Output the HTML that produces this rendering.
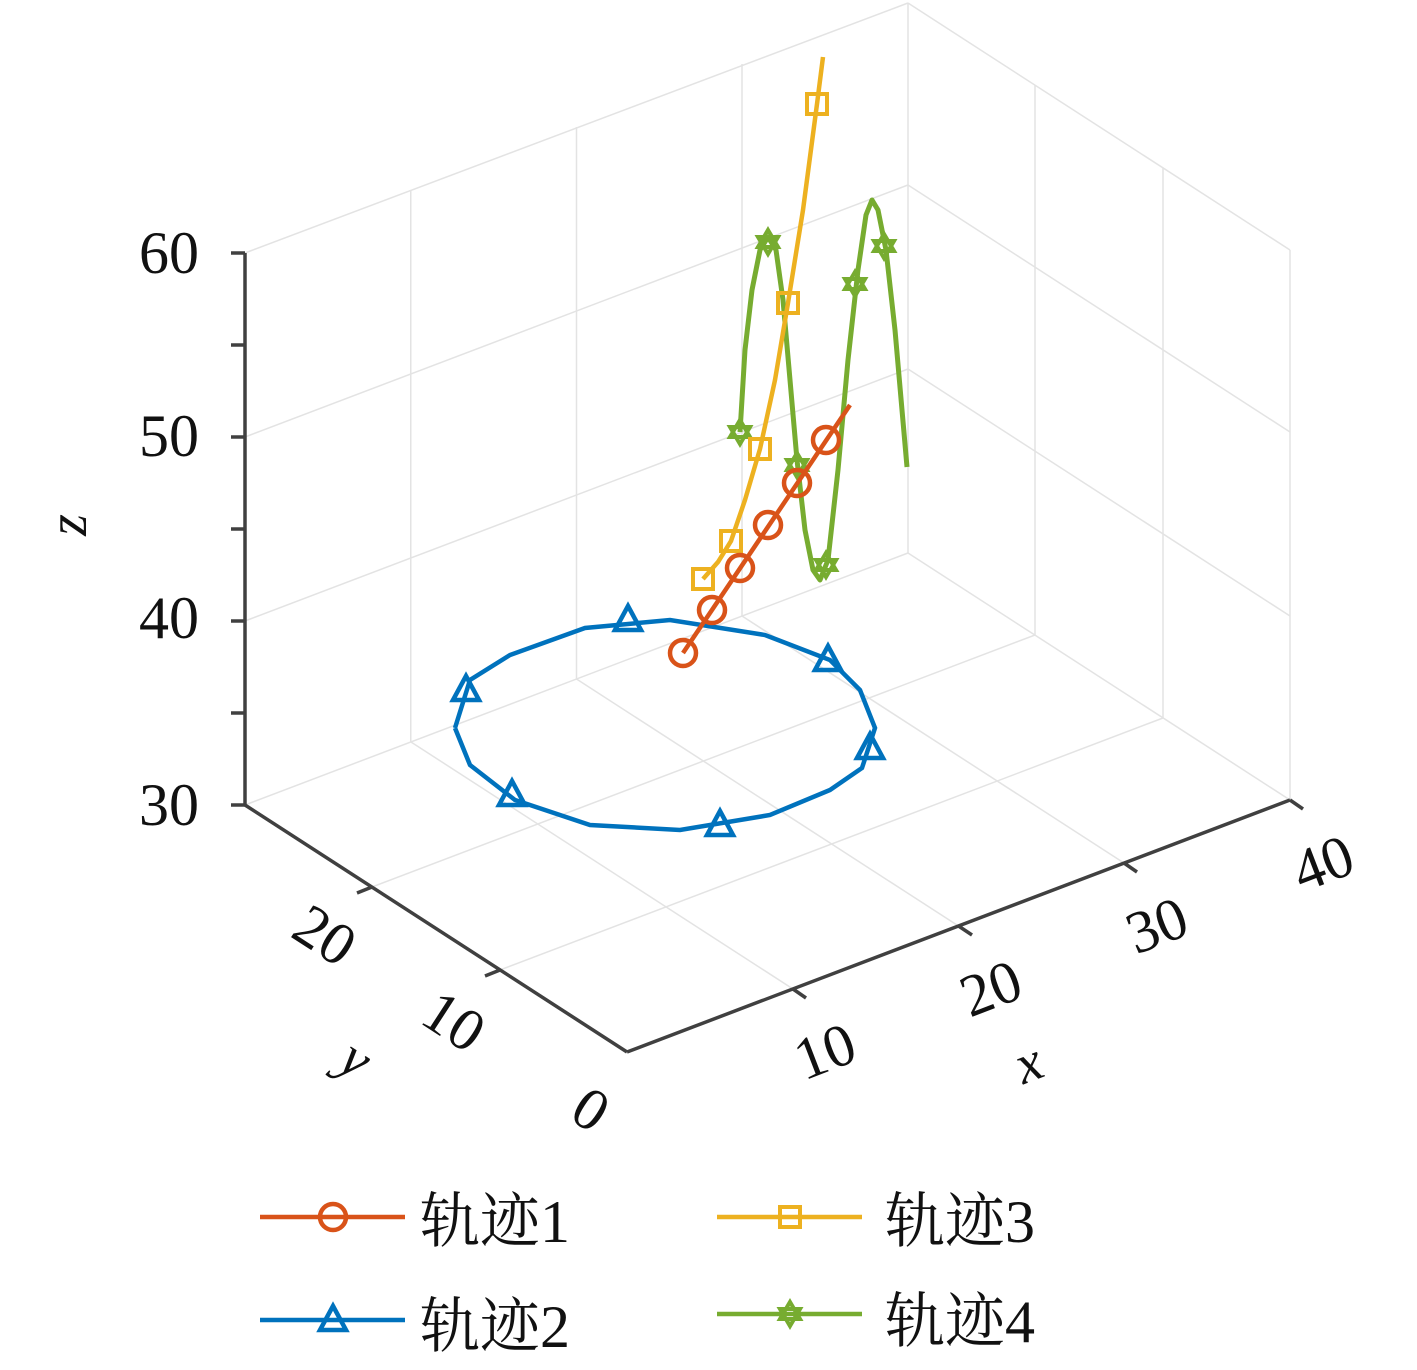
<!DOCTYPE html>
<html><head><meta charset="utf-8"><style>
html,body{margin:0;padding:0;background:#fff;}
svg{display:block;}
text{font-family:"Liberation Serif","Noto Serif CJK SC",serif;fill:#111;}
</style></head><body>
<svg width="1417" height="1370" viewBox="0 0 1417 1370" xmlns="http://www.w3.org/2000/svg">
<g stroke="#e3e3e3" stroke-width="1.5" fill="none">
<line x1="410.75" y1="742" x2="410.75" y2="190"/>
<line x1="576.5" y1="679" x2="576.5" y2="127"/>
<line x1="742" y1="616" x2="742" y2="64"/>
<line x1="908" y1="553" x2="908" y2="3"/>
<line x1="245" y1="621" x2="908" y2="369"/>
<line x1="245" y1="437" x2="908" y2="185"/>
<line x1="245" y1="253" x2="908" y2="3"/>
<line x1="1290" y1="800" x2="1290" y2="250"/>
<line x1="1163" y1="718" x2="1163" y2="168"/>
<line x1="1035" y1="635" x2="1035" y2="85"/>
<line x1="908" y1="369" x2="1290" y2="616"/>
<line x1="908" y1="185" x2="1290" y2="432"/>
<line x1="908" y1="3" x2="1290" y2="250"/>
<line x1="793" y1="989" x2="411" y2="742"/>
<line x1="958.5" y1="926" x2="576.5" y2="679"/>
<line x1="1124" y1="863" x2="742" y2="616"/>
<line x1="1290" y1="800" x2="908" y2="553"/>
<line x1="500" y1="970" x2="1163" y2="718"/>
<line x1="372" y1="887" x2="1035" y2="635"/>
<line x1="245" y1="805" x2="908" y2="553"/>
</g>
<g stroke="#404040" stroke-width="3.5" fill="none">
<line x1="245" y1="253" x2="245" y2="805"/>
<line x1="245" y1="805" x2="627" y2="1052"/>
<line x1="627" y1="1052" x2="1290" y2="800"/>
<line x1="245" y1="253" x2="231" y2="253"/>
<line x1="245" y1="345" x2="231" y2="345"/>
<line x1="245" y1="437" x2="231" y2="437"/>
<line x1="245" y1="529" x2="231" y2="529"/>
<line x1="245" y1="621" x2="231" y2="621"/>
<line x1="245" y1="713" x2="231" y2="713"/>
<line x1="245" y1="805" x2="231" y2="805"/>
<line x1="793" y1="989" x2="806" y2="998"/>
<line x1="958.5" y1="926" x2="972" y2="935"/>
<line x1="1124" y1="863" x2="1137" y2="872"/>
<line x1="1290" y1="800" x2="1303" y2="809"/>
<line x1="500" y1="970" x2="485" y2="976"/>
<line x1="372" y1="887" x2="357" y2="893"/>
</g>
<g font-size="60" text-anchor="end">
<text x="199" y="273">60</text>
<text x="199" y="456">50</text>
<text x="199" y="638">40</text>
<text x="199" y="825">30</text>
</g>
<g font-size="60" text-anchor="middle">
<text transform="translate(832,1070) rotate(-21)">10</text>
<text transform="translate(998,1007) rotate(-21)">20</text>
<text transform="translate(1164,944) rotate(-21)">30</text>
<text transform="translate(1330,882) rotate(-21)">40</text>
<text transform="translate(580,1126) rotate(33)">0</text>
<text transform="translate(443,1038) rotate(33)">10</text>
<text transform="translate(314,952) rotate(33)">20</text>
</g>
<g font-size="56" font-style="italic" text-anchor="middle">
<text transform="translate(1035,1080) rotate(-21)">x</text>
<text transform="translate(346,1074) rotate(33)">y</text>
<text transform="translate(86,525) rotate(-90)">z</text>
</g>
<g stroke="#0072BD" stroke-width="4.5" fill="none">
<polyline points="455,728 470,680 510,655 585,628 670,620 765,635 830,660 860,690 875,728 862,768 830,790 770,815 680,830 590,825 515,800 470,765 455,728"/>
<path d="M628,606 L641,630 L615,630 Z"/>
<path d="M828,646 L841,670 L815,670 Z"/>
<path d="M870,734 L883,758 L857,758 Z"/>
<path d="M720,811 L733,835 L707,835 Z"/>
<path d="M512,781 L525,805 L499,805 Z"/>
<path d="M466,676 L479,700 L453,700 Z"/>
</g>
<g stroke="#77AC30" stroke-width="5" fill="none" stroke-linejoin="round">
<polyline points="740,432 745,350 752,290 760,250 768,237 776,250 783,300 790,380 797,460 805,530 813,570 820,580 828,560 838,470 848,360 858,270 866,215 872,200 878,210 886,250 895,330 902,410 907,467"/>
</g>
<g stroke="#77AC30" stroke-width="4" fill="none">
<path d="M740,420 L750,437 L730,437 Z M740,444 L750,427 L730,427 Z"/>
<path d="M768,230 L778,247 L758,247 Z M768,254 L778,237 L758,237 Z"/>
<path d="M797,453 L807,470 L787,470 Z M797,477 L807,460 L787,460 Z"/>
<path d="M826,553 L836,570 L816,570 Z M826,577 L836,560 L816,560 Z"/>
<path d="M855,272 L865,289 L845,289 Z M855,296 L865,279 L845,279 Z"/>
<path d="M884,234 L894,251 L874,251 Z M884,258 L894,241 L874,241 Z"/>
</g>
<g stroke="#EDB120" stroke-width="4" fill="none">
<polyline stroke-width="4.5" points="703,579 718,562 731,541 745,500 760,449 775,380 788,303 803,210 817,104 823,57"/>
<rect x="693" y="569" width="20" height="20"/>
<rect x="721" y="531" width="20" height="20"/>
<rect x="750" y="439" width="20" height="20"/>
<rect x="778" y="293" width="20" height="20"/>
<rect x="807" y="94" width="20" height="20"/>
</g>
<g stroke="#D95319" stroke-width="4.5" fill="none">
<line x1="683" y1="653" x2="850" y2="405"/>
<circle cx="683" cy="653" r="13"/>
<circle cx="712" cy="610" r="13"/>
<circle cx="740" cy="568" r="13"/>
<circle cx="768" cy="525" r="13"/>
<circle cx="797" cy="483" r="13"/>
<circle cx="826" cy="440" r="13"/>
</g>
<g stroke-width="4.5" fill="none">
<line x1="260" y1="1217" x2="405" y2="1217" stroke="#D95319"/>
<circle cx="333" cy="1217" r="13" stroke="#D95319"/>
<line x1="260" y1="1320" x2="405" y2="1320" stroke="#0072BD"/>
<path d="M333,1306 L346,1330 L320,1330 Z" stroke="#0072BD"/>
<line x1="717" y1="1217" x2="862" y2="1217" stroke="#EDB120"/>
<rect x="780" y="1207" width="20" height="20" stroke="#EDB120" stroke-width="4"/>
<line x1="717" y1="1314" x2="862" y2="1314" stroke="#77AC30"/>
<path d="M790,1302 L800,1319 L780,1319 Z M790,1326 L800,1309 L780,1309 Z" stroke="#77AC30" stroke-width="4"/>
</g>
<g font-size="60">
<text x="420" y="1242">轨迹1</text>
<text x="420" y="1347">轨迹2</text>
<text x="885" y="1242">轨迹3</text>
<text x="885" y="1342">轨迹4</text>
</g>
</svg>
</body></html>
